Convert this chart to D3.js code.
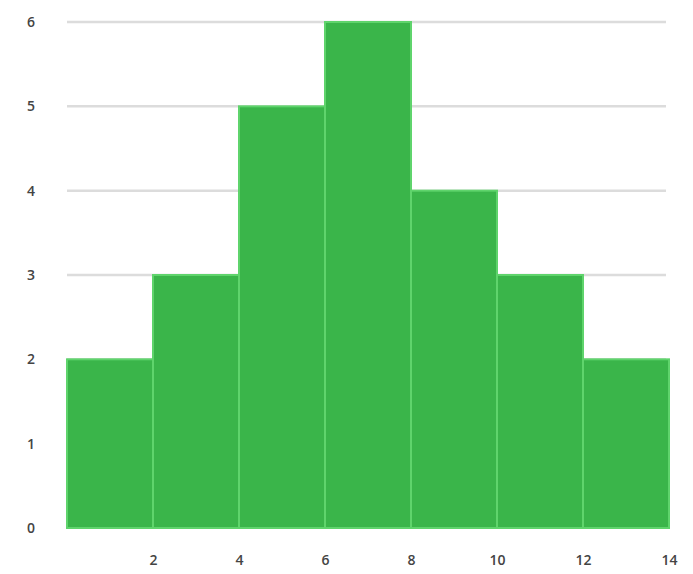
<!DOCTYPE html>
<html>
<head>
<meta charset="utf-8">
<script src="https://cdn.jsdelivr.net/npm/d3@7"></script>
<style>
  body { margin: 0; background: #fff; }
  .tick text { font-family: "Open Sans", sans-serif; font-size: 14px; font-weight: 600; fill: #444; }
</style>
</head>
<body>
<div class="chart"></div>
<script>
// histogram bins (lower edge, upper edge) and counts
var binStarts = [0, 2, 4, 6, 8, 10, 12];
var binEnds = [2, 4, 6, 8, 10, 12, 14];
var counts = [2, 3, 5, 6, 4, 3, 2];
var xTicks = [2, 4, 6, 8, 10, 12, 14];
var yTicks = [0, 1, 2, 3, 4, 5, 6];

var svgWidth = 693;
var svgHeight = 574;

var margin = { top: 22, right: 24, bottom: 46, left: 67 };
var width = svgWidth - margin.left - margin.right;
var height = svgHeight - margin.top - margin.bottom;

var svg = d3.select(".chart")
  .append("svg")
  .attr("width", svgWidth)
  .attr("height", svgHeight);

var chartGroup = svg.append("g")
  .attr("transform", `translate(${margin.left}, ${margin.top})`);

var data = binStarts.map(function(s, i) {
  return { x0: s, x1: binEnds[i], count: counts[i] };
});

// scales
var xScale = d3.scaleLinear().domain([0, 14]).range([0, width]);
var yScale = d3.scaleLinear().domain([0, 6]).range([height, 0]);

// gridlines
chartGroup.append("g")
  .selectAll("line")
  .data(yTicks.filter(d => d > 0))
  .enter()
  .append("line")
  .attr("x1", 0)
  .attr("x2", width - 3)
  .attr("y1", d => yScale(d))
  .attr("y2", d => yScale(d))
  .attr("stroke", "#dcdcdc")
  .attr("stroke-width", 2.5);

// bars
chartGroup.append("g")
  .selectAll("rect")
  .data(data)
  .enter()
  .append("rect")
  .attr("x", d => xScale(d.x0))
  .attr("y", d => yScale(d.count))
  .attr("width", d => xScale(d.x1) - xScale(d.x0))
  .attr("height", d => height - yScale(d.count))
  .attr("fill", "#3ab54a")
  .attr("stroke", "#5fd46c")
  .attr("stroke-width", 2);

// axes, no lines
var bottomAxis = d3.axisBottom(xScale).tickValues(xTicks).tickFormat(d3.format("d")).tickSize(0).tickPadding(27);
var leftAxis = d3.axisLeft(yScale).tickValues(yTicks).tickFormat(d3.format("d")).tickSize(0).tickPadding(32);

var xAxisG = chartGroup.append("g")
  .attr("transform", `translate(0, ${height})`)
  .call(bottomAxis);
xAxisG.select(".domain").remove();

var yAxisG = chartGroup.append("g")
  .call(leftAxis);
yAxisG.select(".domain").remove();
</script>
</body>
</html>
